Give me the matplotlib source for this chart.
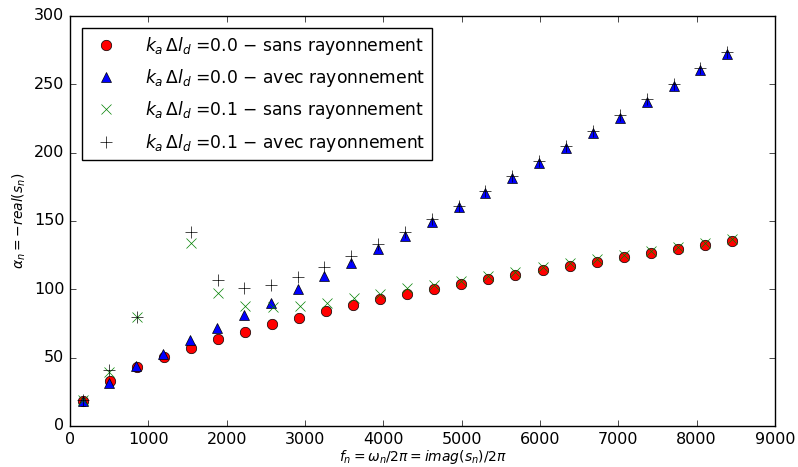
import numpy as np
import matplotlib
matplotlib.use('Agg')
import matplotlib.pyplot as plt

plt.style.use('classic')
plt.rcParams['mathtext.fontset'] = 'dejavusans'

# ka*dl = 0.0, sans rayonnement (red circles)
f_sans0 = [168, 510, 855, 1200, 1545, 1890, 2235, 2580, 2925, 3270, 3615, 3960, 4305,
           4650, 4995, 5340, 5685, 6035, 6380, 6725, 7070, 7415, 7760, 8105, 8450]
a_sans0 = [18.5, 33, 43, 50.7, 57.3, 63.6, 69, 74.4, 79.3, 83.8, 88.3, 92.7, 96.3,
           100.1, 103.8, 107.5, 110.6, 113.9, 117.3, 120.3, 123.4, 126.4, 129.5, 132.2, 135.1]

# ka*dl = 0.0, avec rayonnement (blue triangles)
f_avec0 = [160, 500, 845, 1190, 1535, 1878, 2220, 2563, 2906, 3247, 3590, 3932, 4275,
           4618, 4961, 5304, 5647, 5990, 6333, 6676, 7019, 7362, 7705, 8048, 8391]
a_avec0 = [18, 31.5, 44, 52.7, 62.7, 72, 81.3, 90.3, 100, 109.8, 119.3, 129.6, 139,
           149.6, 160.1, 170.8, 181.8, 192.2, 203.5, 214.7, 225.6, 237.4, 249, 260.6, 272.3]

# ka*dl = 0.1, sans rayonnement (green crosses)
f_sans1 = [168, 502, 851, 1541, 1886, 2240, 2589, 2930, 3278, 3620, 3962, 4305,
           4650, 4995, 5340, 5685, 6035, 6380, 6725, 7070, 7415, 7760, 8105, 8450]
a_sans1 = [19, 39.8, 80, 134, 97.6, 87.8, 86.9, 87.8, 90.3, 93.5, 96.6, 100.8,
           103.2, 106.1, 109.6, 113, 116.3, 119.5, 122.3, 125.2, 128, 131, 133.7, 136.6]

# ka*dl = 0.1, avec rayonnement (black plus)
f_avec1 = [160, 502, 851, 1541, 1886, 2226, 2567, 2908, 3244, 3585, 3929, 4275,
           4618, 4961, 5304, 5647, 5990, 6333, 6676, 7019, 7362, 7705, 8048, 8391]
a_avec1 = [19, 41, 80, 141.8, 107, 100.8, 103.2, 109.3, 116, 124.5, 133, 141.8,
           151.3, 161.3, 172.3, 183.2, 194, 205, 216, 227.4, 239, 250.5, 262, 273.8]

fig = plt.figure(figsize=(7.98, 4.67), dpi=100, facecolor='white')
ax = fig.add_axes([0.0877, 0.0878, 0.8835, 0.878])

ms = 7.5
ax.plot(f_sans0, a_sans0, 'o', color='r', mec='k', ms=ms,
        label=r'$k_a\,\Delta l_d$ =0.0 $-$ sans rayonnement')
ax.plot(f_avec0, a_avec0, '^', color='b', mec='k', ms=ms,
        label=r'$k_a\,\Delta l_d$ =0.0 $-$ avec rayonnement')
ax.plot(f_sans1, a_sans1, 'x', color='g', mec='g', ms=ms,
        label=r'$k_a\,\Delta l_d$ =0.1 $-$ sans rayonnement')
ax.plot(f_avec1, a_avec1, '+', color='k', mec='k', ms=ms + 1,
        label=r'$k_a\,\Delta l_d$ =0.1 $-$ avec rayonnement')

ax.set_xlim(0, 9000)
ax.set_ylim(0, 300)
ax.tick_params(labelsize=11.5)
ax.set_xlabel(r'$f_n=\omega_n/2\pi=imag(s_n)/2\pi$', fontsize=10, labelpad=1)
ax.set_ylabel(r'$\alpha_n=-real(s_n)$', fontsize=10, labelpad=4)

ax.legend(loc='upper left', numpoints=1, fontsize=12.3, labelspacing=0.6,
          borderaxespad=0.7, handletextpad=1.3)

fig.savefig('out.png', dpi=100, facecolor='white')
